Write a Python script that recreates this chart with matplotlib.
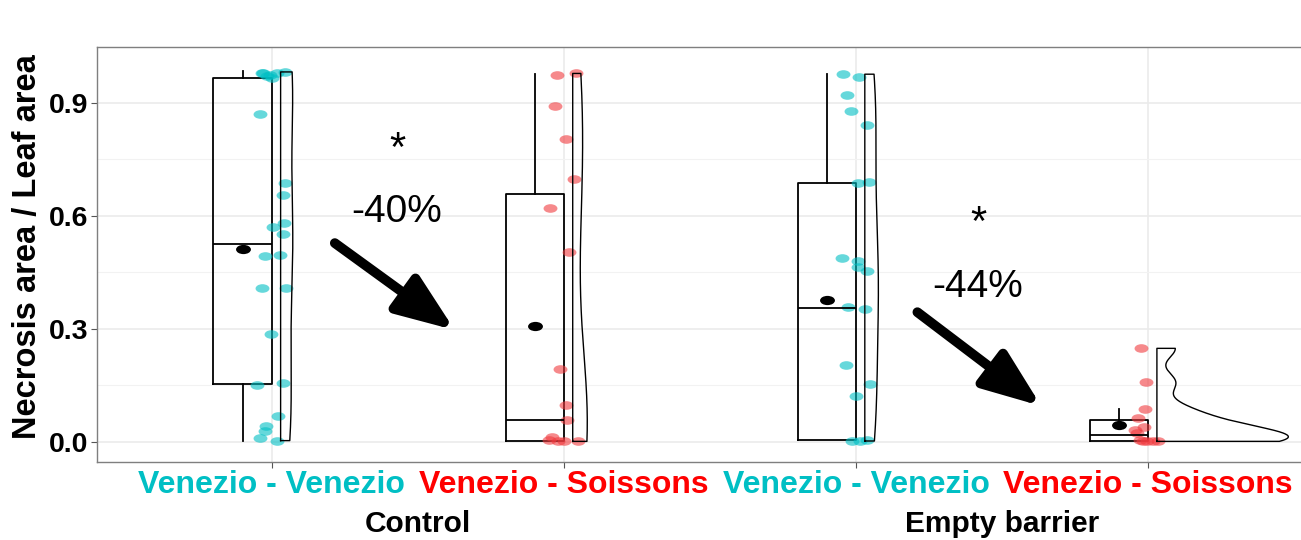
import numpy as np
import matplotlib
matplotlib.use('Agg')
import matplotlib.pyplot as plt
from matplotlib.path import Path

plt.rcParams['font.family'] = ['Liberation Sans', 'DejaVu Sans']

# categories / tick labels
labels = ['Venezio - Venezio', 'Venezio - Soissons', 'Venezio - Venezio', 'Venezio - Soissons']
treatments = ['Control', 'Empty barrier']
label_colors = ['#00BFC4', '#FF0000', '#00BFC4', '#FF0000']

# necrosis ratio per leaf
vv_control = [0.98, 0.975, 0.97, 0.98, 0.965, 0.98, 0.982, 0.870, 0.686, 0.654,
              0.571, 0.580, 0.551, 0.494, 0.497, 0.409, 0.409, 0.285, 0.150, 0.155,
              0.069, 0.042, 0.028, 0.009, 0.003]
vs_control = [0.973, 0.978, 0.891, 0.803, 0.698, 0.620, 0.504, 0.192, 0.098, 0.059,
              0.013, 0.003, 0.002, 0.001, 0.004]
vv_barrier = [0.976, 0.969, 0.922, 0.879, 0.841, 0.688, 0.689, 0.488, 0.480, 0.465,
              0.454, 0.357, 0.353, 0.205, 0.122, 0.152, 0.003, 0.002, 0.004]
vs_barrier = [0.248, 0.158, 0.087, 0.062, 0.040, 0.031, 0.022, 0.004, 0.002, 0.003,
              0.001, 0.002]

# horizontal jitter of each point (pixels)
jit_vv_control = [-9, -2, -5, -10, 0, 5, 13, -12, 13, 11, 1, 12, 11, -7, 8, -10, 14,
                  -1, -15, 11, 6, -6, -7, -12, 5]
jit_vs_control = [-7, 12, -9, 2, 10, -14, 5, -4, 2, 3, -12, -6, 0, 14, -15]
jit_vv_barrier = [-13, 3, -9, -5, 11, 2, 13, -14, 2, 2, 11, -8, 9, -10, 0, 14, -4, 4, 11]
jit_vs_barrier = [-7, -2, -3, -10, -4, -13, -11, -8, -1, 5, 10, -5]

# box statistics
q1 = [0.152, 0.003, 0.004, 0.003]
med = [0.525, 0.059, 0.356, 0.017]
q3 = [0.965, 0.659, 0.686, 0.059]
whis_lo = [0.003, 0.003, 0.004, 0.003]
whis_hi = [0.984, 0.976, 0.976, 0.087]
means = [0.513, 0.307, 0.376, 0.044]

series = [vv_control, vs_control, vv_barrier, vs_barrier]
jitters = [jit_vv_control, jit_vs_control, jit_vv_barrier, jit_vs_barrier]
point_colors = ['#00BFC4', '#F03A3E', '#00BFC4', '#F03A3E']

px = 292.3  # pixels per category unit

fig = plt.figure(figsize=(13.01, 5.4), dpi=100)
ax = fig.add_axes([96.6 / 1301, 78.3 / 540, 1226.8 / 1301, 415 / 540])

pos = np.arange(1, 5)

# grid
ax.set_yticks([0, 0.3, 0.6, 0.9])
ax.set_yticks([0.15, 0.45, 0.75], minor=True)
ax.grid(which='major', color='#EBEBEB', lw=1.2)
ax.grid(which='minor', axis='y', color='#F2F2F2', lw=0.8)
ax.set_axisbelow(True)

# boxplots, sitting just left of each category
stats = []
for i in range(4):
    stats.append(dict(med=med[i], q1=q1[i], q3=q3[i], whislo=whis_lo[i], whishi=whis_hi[i]))
ax.bxp(stats, positions=pos - 0.1, widths=0.2, showcaps=False, showfliers=False,
       boxprops=dict(color='k', lw=1.3), whiskerprops=dict(color='k', lw=1.3),
       medianprops=dict(color='k', lw=1.3), manage_ticks=False)

# flat-ish ellipse marker
circ = Path.unit_circle()
ellipse = Path(circ.vertices * [1.0, 0.62], circ.codes)

ax.scatter(pos - 0.1, means, marker=ellipse, s=115, color='k', zorder=4, linewidths=0)

# half violins (gaussian kde, trimmed, common area scale)
def kde(vals, grid):
    v = np.asarray(vals)
    n = len(v)
    iqr = np.subtract(*np.percentile(v, [75, 25]))
    bw = 0.9 * min(v.std(ddof=1), iqr / 1.34) * n ** -0.2
    z = (grid[:, None] - v[None, :]) / bw
    return np.exp(-0.5 * z ** 2).sum(1) / (n * bw * np.sqrt(2 * np.pi))

grids, dens = [], []
for vals in series:
    g = np.linspace(min(vals), max(vals), 300)
    grids.append(g)
    dens.append(kde(vals, g))
dmax = max(d.max() for d in dens)

for i in range(4):
    x0 = pos[i] + 0.03
    w = dens[i] / dmax * 0.45
    xs = np.concatenate([[x0], x0 + w, [x0, x0]])
    ys = np.concatenate([[grids[i][0]], grids[i], [grids[i][-1], grids[i][0]]])
    ax.plot(xs, ys, color='k', lw=1.0, zorder=3)

# jittered points
for i in range(4):
    ax.scatter(pos[i] + np.array(jitters[i]) / px, series[i], marker=ellipse, s=100,
               color=point_colors[i], alpha=0.6, linewidths=0, zorder=2)

# annotations
arrow = dict(arrowstyle='-|>,head_length=3.5,head_width=1.35', color='k', lw=7,
             shrinkA=0, shrinkB=0)
ax.annotate('', xy=(1.626, 0.2965), xytext=(1.2155, 0.5275), arrowprops=arrow)
ax.annotate('', xy=(3.634, 0.0948), xytext=(3.210, 0.344), arrowprops=arrow)
ax.text(1.431, 0.775, '*', ha='center', va='center', fontsize=30)
ax.text(1.428, 0.6096, '-40%', ha='center', va='center', fontsize=28)
ax.text(3.419, 0.578, '*', ha='center', va='center', fontsize=30)
ax.text(3.415, 0.4107, '-44%', ha='center', va='center', fontsize=28)

ax.set_xlim(0.4, 4.6)
ax.set_ylim(-0.053, 1.049)
ax.set_xticks(pos)
ax.set_xticklabels(labels, fontsize=23, fontweight='bold')
for t, c in zip(ax.get_xticklabels(), label_colors):
    t.set_color(c)
ax.set_yticklabels(['0.0', '0.3', '0.6', '0.9'], fontsize=20.5, fontweight='bold')
ax.tick_params(axis='both', which='major', length=4, color='#555555', pad=2)
ax.tick_params(axis='y', which='minor', length=0)

for s in ax.spines.values():
    s.set_color('#7F7F7F')
    s.set_linewidth(1.0)

for x, name in zip([1.5, 3.5], treatments):
    ax.text(x, -0.150, name, transform=ax.get_xaxis_transform(), ha='center',
            va='center', fontsize=21.5, fontweight='bold')

fig.text(28 / 1301, 1 - 247 / 540, 'Necrosis area / Leaf area', rotation=90,
         ha='center', va='center', fontsize=23.5, fontweight='bold')

fig.savefig('out.png', dpi=100)
